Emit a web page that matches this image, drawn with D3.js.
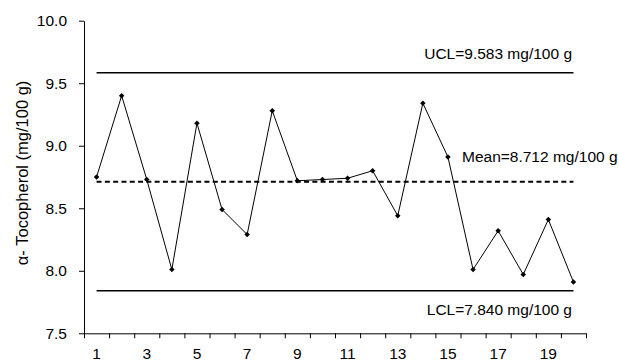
<!DOCTYPE html>
<html>
<head>
<meta charset="utf-8">
<script src="https://cdn.jsdelivr.net/npm/d3@7"></script>
<style>
body { margin:0; background:#fff; }
text { font-family: "Liberation Sans", Arial, sans-serif; }
</style>
</head>
<body>
<svg id="chart" width="619" height="363"></svg>
<script>
// samples 1..20
var samples = d3.range(1, 21);
var tocopherol = [8.75, 9.40, 8.73, 8.01, 9.18, 8.49, 8.29, 9.28, 8.72, 8.73,
                  8.74, 8.80, 8.44, 9.34, 8.91, 8.01, 8.32, 7.97, 8.41, 7.91];
var limitNames = ["UCL", "Mean", "LCL"];
var limitValues = [9.583, 8.712, 7.840];
var yTicks = [7.5, 8.0, 8.5, 9.0, 9.5, 10.0];
var xLabels = [1, 3, 5, 7, 9, 11, 13, 15, 17, 19];

var svg = d3.select("#chart");
var plotLeft = 84, plotRight = 586, plotTop = 20.7, plotBottom = 333.3;

var x = d3.scaleBand().domain(samples).range([plotLeft, plotRight]);
var xEdge = d3.scaleLinear().domain([0, 20]).range([plotLeft, plotRight]);
var y = d3.scaleLinear().domain([7.5, 10]).range([plotBottom, plotTop]);
var cx = function(d){ return x(d) + x.bandwidth()/2; };

// y axis
svg.append("g").attr("transform", "translate(" + plotLeft + ",0)")
  .call(d3.axisLeft(y).tickValues(yTicks).tickFormat(d3.format(".1f"))
    .tickSize(5).tickSizeOuter(0).tickPadding(12));
// x axis ticks on band edges
svg.append("g").attr("transform", "translate(0," + plotBottom + ")")
  .call(d3.axisBottom(xEdge).ticks(20).tickFormat("").tickSize(5).tickSizeOuter(0));
// x labels at band centres
var xLab = svg.append("g").attr("transform", "translate(0," + plotBottom + ")")
  .call(d3.axisBottom(x).tickValues(xLabels).tickSize(0).tickPadding(15));
xLab.select(".domain").remove();

svg.selectAll(".tick text").attr("font-size", "15.5px").attr("fill", "#000")
  .attr("font-family", "Liberation Sans, Arial, sans-serif");
svg.selectAll(".domain, .tick line").attr("stroke", "#000");

// y title
svg.append("text")
  .attr("transform", "translate(28,173) rotate(-90)")
  .attr("text-anchor", "middle")
  .attr("font-size", "16.5px")
  .text("α- Tocopherol (mg/100 g)");

// control lines
var x0 = cx(samples[0]), x1 = cx(samples[samples.length-1]);
limitValues.forEach(function(v, i){
  svg.append("line")
    .attr("x1", x0).attr("x2", x1)
    .attr("y1", y(v)).attr("y2", y(v))
    .attr("stroke", "#000")
    .attr("stroke-width", limitNames[i] == "Mean" ? 2 : 1.5)
    .attr("stroke-dasharray", limitNames[i] == "Mean" ? "5,3.3" : null);
});

svg.append("text").attr("x", 572).attr("y", y(limitValues[0]) - 14)
  .attr("text-anchor", "end").attr("font-size", "15.5px")
  .text("UCL=" + limitValues[0].toFixed(3) + " mg/100 g");
svg.append("text").attr("x", 462).attr("y", y(limitValues[1]) - 19.3)
  .attr("font-size", "15.5px")
  .text("Mean=" + limitValues[1].toFixed(3) + " mg/100 g");
svg.append("text").attr("x", 572).attr("y", y(limitValues[2]) + 24.7)
  .attr("text-anchor", "end").attr("font-size", "15.5px")
  .text("LCL=" + limitValues[2].toFixed(3) + " mg/100 g");

// series
var line = d3.line().x(function(d, i){ return cx(samples[i]); }).y(function(d){ return y(d); });
svg.append("path").datum(tocopherol)
  .attr("d", line).attr("fill", "none").attr("stroke", "#000").attr("stroke-width", 1);

svg.selectAll(".pt").data(tocopherol).enter().append("path")
  .attr("class", "pt")
  .attr("d", d3.symbol().type(d3.symbolSquare).size(15))
  .attr("transform", function(d, i){ return "translate(" + cx(samples[i]) + "," + y(d) + ") rotate(45)"; })
  .attr("fill", "#000");
</script>
</body>
</html>
